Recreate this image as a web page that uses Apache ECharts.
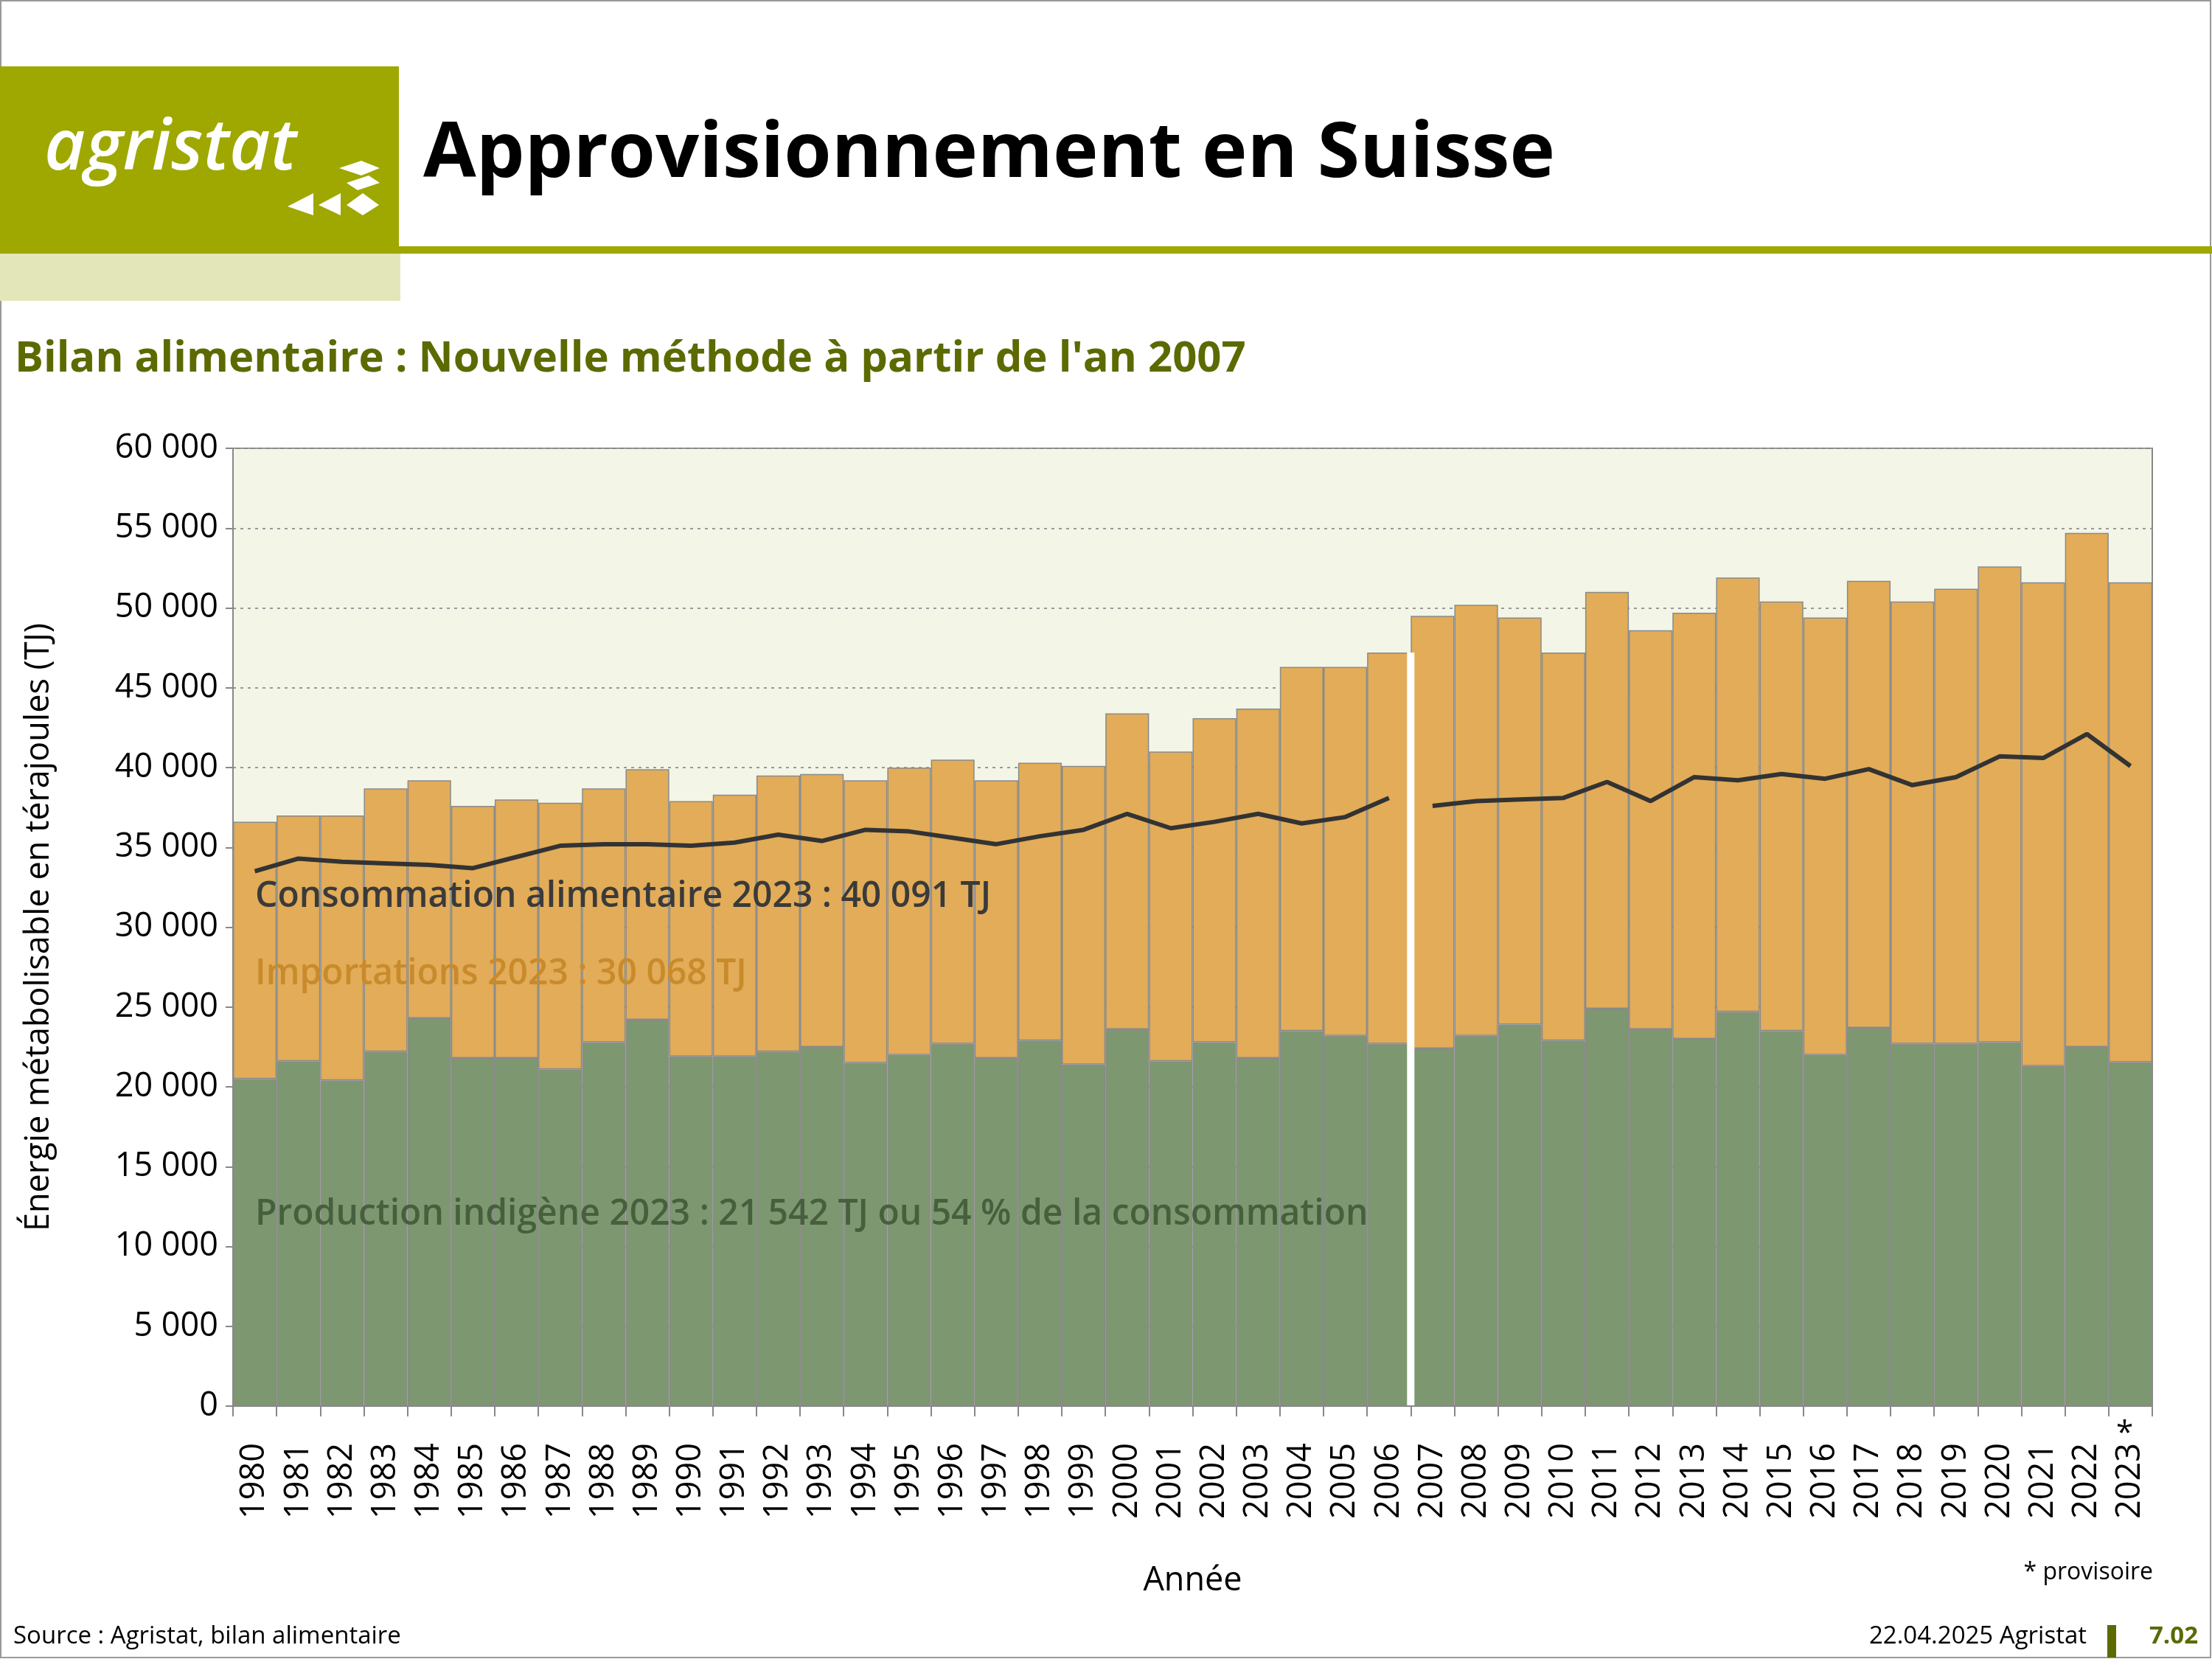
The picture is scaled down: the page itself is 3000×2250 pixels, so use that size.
<!DOCTYPE html>
<html><head><meta charset="utf-8">
<script src="https://cdn.jsdelivr.net/npm/echarts@6/dist/echarts.min.js"></script>
<style>html,body{margin:0;padding:0;background:#fff}#c{width:3000px;height:2250px}</style>
</head><body><div id="c"></div>
<script>
const years=['1980','1981','1982','1983','1984','1985','1986','1987','1988','1989','1990','1991','1992','1993','1994','1995','1996','1997','1998','1999','2000','2001','2002','2003','2004','2005','2006','2007','2008','2009','2010','2011','2012','2013','2014','2015','2016','2017','2018','2019','2020','2021','2022','2023'];
const totalSupply=[36600,37000,37000,38700,39200,37600,38000,37800,38700,39900,37900,38300,39500,39600,39200,40000,40500,39200,40300,40100,43400,41000,43100,43700,46300,46300,47200,49500,50200,49400,47200,51000,48600,49700,51900,50400,49400,51700,50400,51200,52600,51600,54700,51610];
const production=[20500,21600,20400,22200,24300,21800,21800,21100,22800,24200,21900,21900,22200,22500,21500,22000,22700,21800,22900,21400,23600,21600,22800,21800,23500,23200,22700,22400,23200,23900,22900,24900,23600,23000,24700,23500,22000,23700,22700,22700,22800,21300,22500,21542];
const consumption=[33500,34300,34100,34000,33900,33700,34400,35100,35200,35200,35100,35300,35800,35400,36100,36000,35600,35200,35700,36100,37100,36200,36600,37100,36500,36900,38100,37600,37900,38000,38100,39100,37900,39400,39200,39600,39300,39900,38900,39400,40700,40600,42100,40091];
const imports=totalSupply.map((t,i)=>t-production[i]);
const oldIdx=years.indexOf('2006');
const consOld=consumption.map((v,i)=>i<=oldIdx?v:'-');
const consNew=consumption.map((v,i)=>i>oldIdx?v:'-');
const F='"Open Sans", "Noto Sans", sans-serif';
const fmt=v=>String(v).replace(/\B(?=(\d{3})+(?!\d))/g,' ');
const ch=echarts.init(document.getElementById('c'));
const txt=(x,y,t,s,c,w,extra)=>Object.assign({type:'text',left:x,top:y,style:{text:t,font:(w||'normal')+' '+s+'px '+F,fill:c}},extra||{});
ch.setOption({
 animation:false,
 grid:{left:316,right:81,top:608,bottom:343,show:true,backgroundColor:'#f3f5e6',borderColor:'#888',borderWidth:2},
 xAxis:{type:'category',data:years,axisLine:{lineStyle:{color:'#888',width:2}},axisTick:{show:true,length:14,lineStyle:{color:'#888',width:2}},
  axisLabel:{rotate:90,fontSize:45,color:'#000',fontFamily:F,margin:50,interval:0},
  name:'Année',nameLocation:'middle',nameGap:215,nameTextStyle:{fontSize:45,fontFamily:F,color:'#000'}},
 yAxis:{type:'value',min:0,max:60000,interval:5000,axisLine:{show:true,lineStyle:{color:'#888',width:2}},axisTick:{show:true,length:10,lineStyle:{color:'#888',width:2}},
  splitLine:{lineStyle:{color:'#999',type:[4,6],width:2}},
  axisLabel:{fontSize:45,color:'#000',fontFamily:F,margin:20,formatter:fmt},
  name:'Énergie métabolisable en térajoules (TJ)',nameLocation:'middle',nameGap:240,nameTextStyle:{fontSize:45,fontFamily:F,color:'#000'}},
 series:[
  {type:'bar',stack:'s',data:production,barCategoryGap:'0%',itemStyle:{color:'#7d9870',borderColor:'#8a8a8a',borderWidth:1.5}},
  {type:'bar',stack:'s',data:imports,itemStyle:{color:'#e2ac58',borderColor:'#8a8a8a',borderWidth:1.5}},
  {type:'line',data:consOld,symbol:'none',lineStyle:{color:'#333',width:6},z:5},
  {type:'line',data:consNew,symbol:'none',lineStyle:{color:'#333',width:6},z:5}
 ]
});
const xb=(ch.convertToPixel({xAxisIndex:0},'2006')+ch.convertToPixel({xAxisIndex:0},'2007'))/2;
const y0=ch.convertToPixel({yAxisIndex:0},0);
const yGap=ch.convertToPixel({yAxisIndex:0},Math.min(totalSupply[oldIdx],totalSupply[oldIdx+1]));
ch.setOption({graphic:[
 {type:'rect',shape:{x:xb-5,y:yGap,width:10,height:y0-yGap-1},style:{fill:'#fff'},z:100},
 {type:'rect',shape:{x:1,y:1,width:2997,height:2247},style:{fill:null,stroke:'#999',lineWidth:2},z:100},
 {type:'rect',shape:{x:0,y:90,width:541,height:251},style:{fill:'#9ea800'},z:100},
 {type:'rect',shape:{x:0,y:334,width:3000,height:10},style:{fill:'#9ea800'},z:100},
 {type:'rect',shape:{x:0,y:344,width:543,height:64},style:{fill:'#e3e6b8'},z:100},
 txt(60,155,'agristat',96,'#fff','italic 600',{z:101}),
 {type:'polygon',shape:{points:[[460,228],[490,218],[515,228],[490,238]]},style:{fill:'#fff'},z:101},
 {type:'polygon',shape:{points:[[470,248],[500,238],[515,248],[485,258]]},style:{fill:'#fff'},z:101},
 {type:'polygon',shape:{points:[[390,280],[425,262],[425,292]]},style:{fill:'#fff'},z:101},
 {type:'polygon',shape:{points:[[432,278],[462,262],[462,292]]},style:{fill:'#fff'},z:101},
 {type:'polygon',shape:{points:[[470,278],[492,262],[514,278],[492,292]]},style:{fill:'#fff'},z:101},
 txt(574,158,'Approvisionnement en Suisse',104,'#000','bold',{z:101}),
 txt(20,458,"Bilan alimentaire : Nouvelle méthode à partir de l'an 2007",58,'#5c6a00','bold',{z:101}),
 txt(346,1192,'Consommation alimentaire 2023 : 40 091 TJ',48,'#3a3a3a','600',{z:101}),
 txt(346,1297,'Importations 2023 : 30 068 TJ',48,'#c98a2c','600',{z:101}),
 txt(346,1623,'Production indigène 2023 : 21 542 TJ ou 54 % de la consommation',48,'#46603e','600',{z:101}),
 txt(2870,1924,'*',42,'#000','normal',{z:101}),
 {type:'text',right:80,top:2117,style:{text:'* provisoire',font:'32px '+F,fill:'#000'},z:101},
 txt(18,2203,'Source : Agristat, bilan alimentaire',33,'#000','normal',{z:101}),
 {type:'text',right:170,top:2203,style:{text:'22.04.2025 Agristat',font:'33px '+F,fill:'#000'},z:101},
 {type:'rect',shape:{x:2858,y:2204,width:12,height:44},style:{fill:'#5c6a00'},z:101},
 txt(2915,2203,'7.02',33,'#5c6a00','bold',{z:101})
]});
</script></body></html>
